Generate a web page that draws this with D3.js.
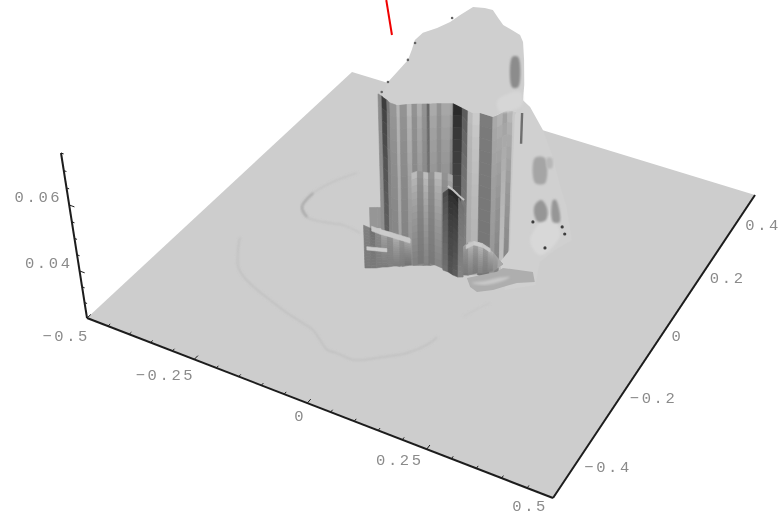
<!DOCTYPE html>
<html>
<head>
<meta charset="utf-8">
<script src="https://d3js.org/d3.v7.min.js"></script>
<style>
  body { margin: 0; background: #fff; }
  svg { display: block; }
  text { font-family: "Liberation Mono", monospace; font-size: 15.5px; letter-spacing: 2.6px; fill: #8a8a8a; }
</style>
</head>
<body>
<svg id="chart" width="784" height="518"></svg>
<script>
// axis values
const xLabels = [-0.5, -0.25, 0, 0.25, 0.5];
const yLabels = [-0.4, -0.2, 0, 0.2, 0.4];
const zLabels = [0.04, 0.06];
const xRange = [-0.5, 0.5];
const yRange = [-0.5, 0.5];
const zRange = [0.025, 0.075];

// flat top of the surface, clipped at the plot range
const topX = [-0.088,-0.095,-0.101,-0.103,-0.106,-0.117,-0.130,-0.129,-0.113,-0.101,-0.096,-0.088,-0.065,-0.047,-0.023,-0.002,0.022,0.045,0.062,0.093,0.133,0.154,0.170,0.143,0.130,0.103,0.090,0.043,0.021,-0.012,-0.047,-0.083];
const topY = [-0.058,-0.034,-0.013,0.026,0.074,0.109,0.145,0.176,0.206,0.239,0.273,0.314,0.322,0.323,0.300,0.281,0.272,0.263,0.242,0.184,0.104,0.056,0.015,0.012,-0.022,-0.022,-0.029,-0.017,-0.029,-0.047,-0.074,-0.063];

// main front wall, top to floor
const wallX = [-0.097,-0.087,-0.072,-0.062,-0.047,-0.042,-0.032,-0.024,-0.015,-0.007,0.001,0.006,0.016,0.024,0.038,0.043,0.059,0.080,0.091,0.103,0.130,0.135,0.139,0.144,0.154,0.168,0.171];
const wallY = [-0.058,-0.061,-0.068,-0.074,-0.074,-0.071,-0.061,-0.057,-0.052,-0.048,-0.043,-0.041,-0.031,-0.027,-0.019,-0.017,-0.010,-0.027,-0.028,-0.022,-0.022,-0.012,0.002,0.012,0.014,0.014,0.027];
const wallHi = [138,56,119,153,186,150,190,148,180,150,98,176,148,172,170,38,85,190,206,124,172,186,156,190,200,138];
const wallLo = [144,102,136,132,160,130,146,130,136,130,124,132,130,132,90,85,132,168,176,118,150,130,192,132,200,204];

// step in the middle of the wall
const stepX = [-0.026,-0.018,-0.009,-0.001,0.013,0.030,0.045,0.055];
const stepY = [-0.057,-0.049,-0.040,-0.035,-0.035,-0.037,-0.040,-0.041];
const stepZ = [0.0543,0.0546,0.054,0.0537,0.0546,0.0552,0.0559,0.056];
const stepHi = [196,150,198,150,194,150,176];
const stepLo = [128,120,132,120,132,120,118];

// dark cleft and ledge
const cleftX = [0.035,0.047,0.060,0.072,0.081];
const cleftY = [-0.042,-0.042,-0.046,-0.047,-0.042];
const cleftZ = [0.0497,0.0515,0.0519,0.0503,0.0472];
const cleftHi = [70,36,34,110];
const cleftLo = [112,84,92,130];
const ledgeX = [0.034,0.049,0.065,0.083];
const ledgeY = [-0.020,-0.027,-0.036,-0.045];
const ledgeZ = 0.05;

// left terrace
const leftX = [-0.106,-0.095,-0.086,-0.077,-0.067,-0.058,-0.047,-0.040,-0.029];
const leftY = [-0.111,-0.105,-0.100,-0.092,-0.086,-0.078,-0.072,-0.064,-0.058];
const leftZ = [0.0389,0.038,0.0373,0.0364,0.0358,0.0349,0.0346,0.034,0.0333];
const leftHi = [130,110,140,176,150,190,160,190];
const leftLo = [122,122,124,122,128,126,124,116];
const blockX = [-0.163,-0.149,-0.134];
const blockY = [0.007,0.015,0.023];
const blockZ = 0.0318;
const bandAX = [-0.155,-0.135,-0.112,-0.089,-0.066];
const bandAY = [0,-0.001,0.001,0.002,0.003];
const bandBX = [-0.132,-0.112,-0.093];
const bandBY = [-0.059,-0.052,-0.045];

// front terrace
const frontX = [0.078,0.087,0.094,0.101,0.110,0.117,0.125,0.129,0.132];
const frontY = [-0.036,-0.032,-0.024,-0.016,-0.012,-0.004,0.004,0.017,0.033];
const frontZ = [0.0343,0.0358,0.0355,0.0349,0.0343,0.0327,0.0309,0.0281,0.025];
const frontHi = [165,200,172,204,168,190,170,170];
const frontLo = [120,126,120,130,124,130,146,170];
const bandCX = [0.044,0.052,0.070,0.092];
const bandCY = [0.041,0.060,0.062,0.055];
const rimX = [0.089,0.133,0.138,0.197,0.214,0.184,0.152,0.127,0.108];
const rimY = [-0.041,0.005,0.022,0.039,0.013,-0.007,-0.049,-0.070,-0.063];
const rimInX = [0.105,0.125,0.142,0.163,0.153,0.131];
const rimInY = [-0.050,-0.032,-0.012,0.003,-0.020,-0.043];

// broken ground to the right
const rubbleX = [0.129,0.127,0.113,0.145,0.182,0.212,0.222,0.205,0.195,0.219,0.173,0.124,0.188,0.168,0.163];
const rubbleY = [0.109,0.147,0.243,0.223,0.186,0.154,0.171,0.125,0.075,0.005,-0.038,0.036,-0.052,-0.009,0.004];
const rubbleZ = [0.07,0.065,0.05,0.045,0.04,0.0375,0.025,0.025,0.025,0.025,0.025,0.025,0.04,0.06,0.075];
const rubbleLitX = [0.146,0.145,0.193,0.186];
const rubbleLitY = [0.130,0.226,0.175,0.095];
const patch1X = [0.096,0.114,0.153,0.135];
const patch1Y = [0.246,0.256,0.177,0.168];
const patch2X = [0.118,0.127,0.143,0.134];
const patch2Y = [0.258,0.263,0.231,0.226];
const patch3X = [0.167,0.171,0.193,0.208,0.197,0.179];
const patch3Y = [0.101,0.122,0.103,0.067,0.054,0.073];
const patch4X = [0.192,0.197,0.235,0.223];
const patch4Y = [0.133,0.136,0.074,0.068];
const pitX = [0.188,0.245,0.260,0.246];
const pitY = [0.049,-0.014,0.044,0.062];
const pitZ = 0.04;

// marks on the top
const stainX = [0.068,0.078,0.126,0.116];
const stainY = [0.182,0.188,0.092,0.086];
const litX = [0.112,0.137,0.160,0.134];
const litY = [0.033,0.078,0.040,-0.001];
const notchX = [-0.094,-0.101,-0.106,-0.124,-0.105];
const notchY = [-0.049,-0.013,0.074,0.135,0.255];
const streakX = 0.172;
const streakY = 0.016;
const streakZ = [0.075,0.066];

// faint ridges on the floor
const crescentX = [-0.285,-0.314,-0.330,-0.325,-0.297,-0.259,-0.217,-0.173];
const crescentY = [0.161,0.108,0.054,0.001,-0.024,-0.022,-0.011,-0.017];
const crescentCoreX = [-0.330,-0.325,-0.297];
const crescentCoreY = [0.054,0.001,-0.024];
const ridgeX = [-0.382,-0.362,-0.331,-0.300,-0.258,-0.219,-0.169,-0.126,-0.098,-0.071,-0.044,-0.023,0.015,0.059,0.094,0.118,0.122];
const ridgeY = [-0.147,-0.184,-0.230,-0.253,-0.272,-0.286,-0.303,-0.314,-0.322,-0.340,-0.358,-0.357,-0.358,-0.325,-0.293,-0.248,-0.226];
const faintX = [0.138,0.149,0.165];
const faintY = [-0.150,-0.120,-0.088];

// red pointer line
const pointerX = [-0.257,-0.179];
const pointerY = [0.252,0.139];

const svg = d3.select('#chart');
const defs = svg.append('defs');
defs.append('filter').attr('id', 'soft').append('feGaussianBlur').attr('stdDeviation', 0.6);
defs.append('filter').attr('id', 'softer').append('feGaussianBlur').attr('stdDeviation', 0.35);
defs.append('filter').attr('id', 'hazy').append('feGaussianBlur').attr('stdDeviation', 1.3);

// scales into the unit cube of the box
const xs = d3.scaleLinear().domain(xRange).range([0, 1]);
const ys = d3.scaleLinear().domain(yRange).range([0, 1]);
const zs = d3.scaleLinear().domain(zRange).range([0, 1]);
const gray = d3.scaleLinear().domain([0, 255]).range(['#000', '#fff']);

// perspective view, Mathematica style
function project(x, y, z) {
  const u = xs(x), v = ys(y), t = zs(z);
  const w = 1 - 0.10358 * u + 0.20825 * v - 0.0686 * t;
  return [
    (408.72 * u + 338.3 * v + 87 - 30.18 * t) / w,
    (128.42 * u - 231.01 * v + 318 - 175.5 * t) / w
  ];
}

const base = zRange[0];
const line = d3.line();
const outline = (X, Y, Z) => X.map((x, i) => project(x, Y[i], Array.isArray(Z) ? Z[i] : Z));
const blob = d3.line().curve(d3.curveCatmullRomClosed);
const trail = d3.line().curve(d3.curveCatmullRom);

const floorLayer = svg.append('g').attr('filter', 'url(#softer)');
const surface = svg.append('g').attr('filter', 'url(#soft)');
const axes = svg.append('g').attr('filter', 'url(#softer)');
const labels = svg.append('g').attr('filter', 'url(#softer)');

// floor
floorLayer.append('path')
  .attr('d', line([
    project(xRange[0], yRange[0], base), project(xRange[1], yRange[0], base),
    project(xRange[1], yRange[1], base), project(xRange[0], yRange[1], base)
  ]) + 'Z')
  .attr('fill', '#cdcdcd');

function ridge(X, Y, shade, width) {
  surface.append('path')
    .attr('d', trail(outline(X, Y, base)))
    .attr('fill', 'none').attr('stroke', gray(shade)).attr('stroke-width', width)
    .attr('filter', 'url(#hazy)');
}
ridge(crescentX, crescentY, 192, 1.4);
ridge(crescentCoreX, crescentCoreY, 168, 2.2);
ridge(ridgeX, ridgeY, 190, 1.5);
ridge(faintX, faintY, 198, 1.2);

// vertical strips between neighbouring vertices, shaded from top to bottom
function strips(X, Y, Z, hi, lo, bands = 14) {
  const zTop = i => Array.isArray(Z) ? Z[i] : Z;
  for (let i = 0; i < X.length - 1; i++) {
    for (let b = 0; b < bands; b++) {
      const f0 = b / bands, f1 = (b + 1) / bands;
      const z = (k, f) => zTop(k) + (base - zTop(k)) * f;
      const c = gray(hi[i] + (lo[i] - hi[i]) * Math.pow((b + 0.5) / bands, 0.6));
      surface.append('path')
        .attr('d', line([
          project(X[i], Y[i], z(i, f0)), project(X[i + 1], Y[i + 1], z(i + 1, f0)),
          project(X[i + 1], Y[i + 1], z(i + 1, f1)), project(X[i], Y[i], z(i, f1))
        ]) + 'Z')
        .attr('fill', c).attr('stroke', c).attr('stroke-width', 0.6);
    }
  }
}
function patch(X, Y, Z, shade) {
  surface.append('path').attr('d', blob(outline(X, Y, Z))).attr('fill', gray(shade))
    .attr('filter', 'url(#hazy)');
}

strips(blockX, blockY, blockZ, [150, 150], [150, 150], 1);
strips(wallX, wallY, zRange[1], wallHi, wallLo);
strips(stepX, stepY, stepZ, stepHi, stepLo);
strips(cleftX, cleftY, cleftZ, cleftHi, cleftLo);

surface.append('path')
  .attr('d', trail(outline(ledgeX, ledgeY, ledgeZ)))
  .attr('fill', 'none').attr('stroke', gray(196)).attr('stroke-width', 2);

// rubble sits over the foot of the wall
surface.append('path')
  .attr('d', line(outline(rubbleX, rubbleY, rubbleZ)) + 'Z')
  .attr('fill', gray(208));
patch(rubbleLitX, rubbleLitY, base, 216);
patch(patch1X, patch1Y, 0.04, 165);
patch(patch2X, patch2Y, 0.04, 184);
patch(patch3X, patch3Y, 0.04, 150);
patch(patch4X, patch4Y, 0.04, 150);

surface.append('path')
  .attr('d', line([project(streakX, streakY, streakZ[0]), project(streakX, streakY, streakZ[1])]))
  .attr('stroke', gray(110)).attr('stroke-width', 2.4);

surface.selectAll('circle.pit').data(d3.range(pitX.length)).join('circle')
  .attr('class', 'pit')
  .attr('cx', i => project(pitX[i], pitY[i], pitZ)[0])
  .attr('cy', i => project(pitX[i], pitY[i], pitZ)[1])
  .attr('r', 1.6).attr('fill', gray(60));

// front terrace and rim
surface.append('path').attr('d', line(outline(rimX, rimY, base)) + 'Z').attr('fill', gray(174));
patch(rimInX, rimInY, base, 200);
strips(frontX, frontY, frontZ, frontHi, frontLo);
strips(bandCX, bandCY, 0.0262, [200, 204, 200], [200, 204, 200], 1);

// left terrace
strips(leftX, leftY, leftZ, leftHi, leftLo);
strips(bandAX, bandAY, 0.0266, [200, 204, 200, 200], [200, 204, 200, 200], 1);
strips(bandBX, bandBY, 0.0261, [204, 204], [204, 204], 1);

// flat top
surface.append('path')
  .attr('d', line(outline(topX, topY, zRange[1])) + 'Z')
  .attr('fill', '#cfcfcf');
patch(stainX, stainY, zRange[1], 140);
patch(litX, litY, zRange[1], 214);
surface.selectAll('circle.notch').data(d3.range(notchX.length)).join('circle')
  .attr('class', 'notch')
  .attr('cx', i => project(notchX[i], notchY[i], zRange[1])[0])
  .attr('cy', i => project(notchX[i], notchY[i], zRange[1])[1])
  .attr('r', 1.3).attr('fill', gray(100));

// box edges
const edge = (a, b, w) => axes.append('path').attr('d', line([a, b]))
  .attr('stroke', '#1c1c1c').attr('stroke-width', w).attr('fill', 'none');
edge(project(xRange[0], yRange[0], base), project(xRange[1], yRange[0], base), 2);
edge(project(xRange[1], yRange[0], base), project(xRange[1], yRange[1], base), 2);
edge(project(xRange[0], yRange[0], base), project(xRange[0], yRange[0], zRange[1]), 2);

// x ticks every 0.05, longer on the labelled ones
d3.range(0, 21).map(i => xRange[0] + i * 0.05).forEach(x => {
  const major = xLabels.some(l => Math.abs(l - x) < 1e-6);
  edge(project(x, yRange[0], base), project(x, yRange[0] + (major ? 0.012 : 0.007), base), 1);
});
// z ticks every 0.005
d3.range(0, 11).map(i => zRange[0] + i * 0.005).forEach(z => {
  const major = zLabels.some(l => Math.abs(l - z) < 1e-6);
  edge(project(xRange[0], yRange[0], z), project(xRange[0] + (major ? 0.012 : 0.006), yRange[0], z), 1);
});

// tick labels
const fmt = v => String(v).replace('-', '\u2212');
const xdx = d3.scaleLinear().domain(xRange).range([3, -5]);
const xdy = d3.scaleLinear().domain(xRange).range([23, 13]);
labels.selectAll('text.x').data(xLabels).join('text')
  .attr('class', 'x').attr('text-anchor', 'end')
  .attr('x', d => project(d, yRange[0], base)[0] + xdx(d))
  .attr('y', d => project(d, yRange[0], base)[1] + xdy(d))
  .text(fmt);
labels.selectAll('text.y').data(yLabels).join('text')
  .attr('class', 'y').attr('text-anchor', 'start')
  .attr('x', d => project(xRange[1], d, base)[0] + 7)
  .attr('y', d => project(xRange[1], d, base)[1] + 10)
  .text(fmt);
labels.selectAll('text.z').data(zLabels).join('text')
  .attr('class', 'z').attr('text-anchor', 'end')
  .attr('x', d => project(xRange[0], yRange[0], d)[0] - 7)
  .attr('y', d => project(xRange[0], yRange[0], d)[1] - 3)
  .text(fmt);

// pointer
svg.append('path')
  .attr('d', line(outline(pointerX, pointerY, zRange[1])))
  .attr('stroke', '#f00000').attr('stroke-width', 2).attr('fill', 'none');
</script>
</body>
</html>
